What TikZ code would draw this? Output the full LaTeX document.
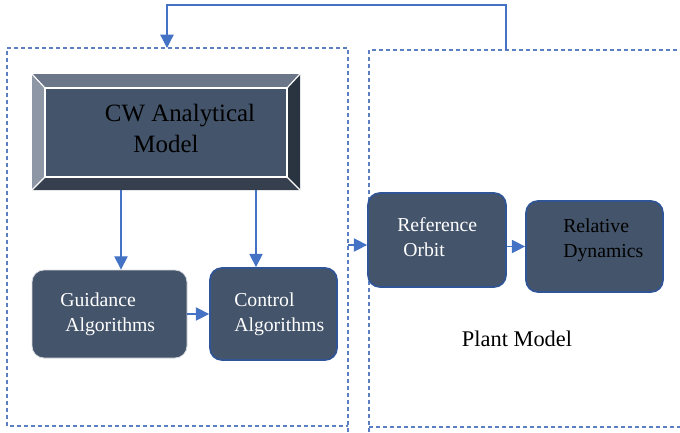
\documentclass[tikz,border=0pt]{standalone}
\usepackage{fontspec}
\setmainfont{Liberation Serif}
\usetikzlibrary{arrows.meta}
\definecolor{face}{HTML}{44546A}
\definecolor{bvtop}{HTML}{6B7789}
\definecolor{bvleft}{HTML}{8D97A5}
\definecolor{bvright}{HTML}{2A3340}
\definecolor{bvbot}{HTML}{363F4D}
\definecolor{dashc}{HTML}{5B7FC0}
\definecolor{arrc}{HTML}{4472C4}
\definecolor{bordc}{HTML}{2F5597}
\definecolor{gbord}{HTML}{D5D9E0}
\begin{document}
\begin{tikzpicture}[x=0.75pt,y=-0.75pt,
  dashbox/.style={draw=dashc,line width=0.9pt,dash pattern=on 3pt off 2.25pt},
  arr/.style={draw=arrc,line width=0.9pt,-{Triangle[length=10pt,width=10pt]}},
  fbline/.style={draw=arrc,line width=0.9pt},
  rbox/.style={rectangle,rounded corners=9pt,fill=face,draw=bordc,line width=1.3pt,inner sep=0pt},
  gboxs/.style={rectangle,rounded corners=9pt,fill=face,draw=gbord,line width=0.6pt,inner sep=0pt},
  boxtxt/.style={inner sep=0pt,align=left,font=\fontsize{14.8}{18.75}\selectfont},
  bevel/.style={draw=white,line width=0.9pt}]
\path[use as bounding box] (0,0) rectangle (680,432);

% dashed groups
\draw[dashbox] (348,432) -- (348,48) -- (7,48) -- (7,426) -- (348,426);
\draw[dashbox] (369,432) -- (369,50) -- (680,50);
\draw[dashbox] (369,427) -- (680,427);

% feedback line
\coordinate (fbs) at (506,50);
\coordinate (fbe) at (167,48);
\draw[fbline] (fbs) -- (506,5) -- (167,5) -- (167,36);
\draw[arr] (167,30) -- (fbe);

% bevel box
\fill[bvtop] (32,74) -- (300,74) -- (287,88) -- (45,88) -- cycle;
\fill[bvleft] (32,74) -- (45,88) -- (45,177) -- (32,190) -- cycle;
\fill[bvright] (300,74) -- (300,190) -- (287,177) -- (287,88) -- cycle;
\fill[bvbot] (32,190) -- (45,177) -- (287,177) -- (300,190) -- cycle;
\fill[face] (45,88) rectangle (287,177);
\draw[bevel] (45,88) rectangle (287,177);
\draw[bevel] (32,74) -- (45,88);
\draw[bevel] (300,74) -- (287,88);
\draw[bevel] (32,190) -- (45,177);
\draw[bevel] (300,190) -- (287,177);
\node[inner sep=0pt,align=center,font=\fontsize{18.7}{23.25}\selectfont] (cw) at (180,128)
  {CW Analytical\\Model\hspace*{21pt}};

% boxes
\node[gboxs,minimum width=116.25pt,minimum height=66pt] (guid) at (109.5,314) {};
\node[rbox,minimum width=95.25pt,minimum height=69pt] (ctrl) at (273.5,314) {};
\node[rbox,minimum width=103.5pt,minimum height=70.5pt] (ref) at (437,240) {};
\node[rbox,minimum width=102.75pt,minimum height=68.25pt] (rel) at (594.5,246.5) {};

\node[boxtxt,text=white,anchor=west] (guidt) at (60,314) {Guidance\\\hspace*{3.75pt}Algorithms};
\node[boxtxt,text=white,anchor=west] (ctrlt) at (234,314) {Control\\Algorithms};
\node[boxtxt,text=white,anchor=west] (reft) at (397,237.5) {Reference\\\hspace*{4.5pt}Orbit};
\node[boxtxt,text=black,anchor=west] (relt) at (563,240.5) {Relative\\Dynamics};

\node[inner sep=0pt,font=\fontsize{16.8}{20}\selectfont] (plant) at (517,339) {Plant Model};

% arrows
\coordinate (a1) at (121,190);
\coordinate (a2) at (256,190);
\draw[arr] (a1) -- (a1 |- guid.north);
\draw[arr] (a2) -- (a2 |- ctrl.north);
\draw[arr] (guid.east) -- (ctrl.west);
\coordinate (ain) at (348,245);
\draw[arr] (ain) -- (ain -| ref.west);
\draw[arr] (rel.west -| ref.east) -- (rel.west);
\end{tikzpicture}
\end{document}
